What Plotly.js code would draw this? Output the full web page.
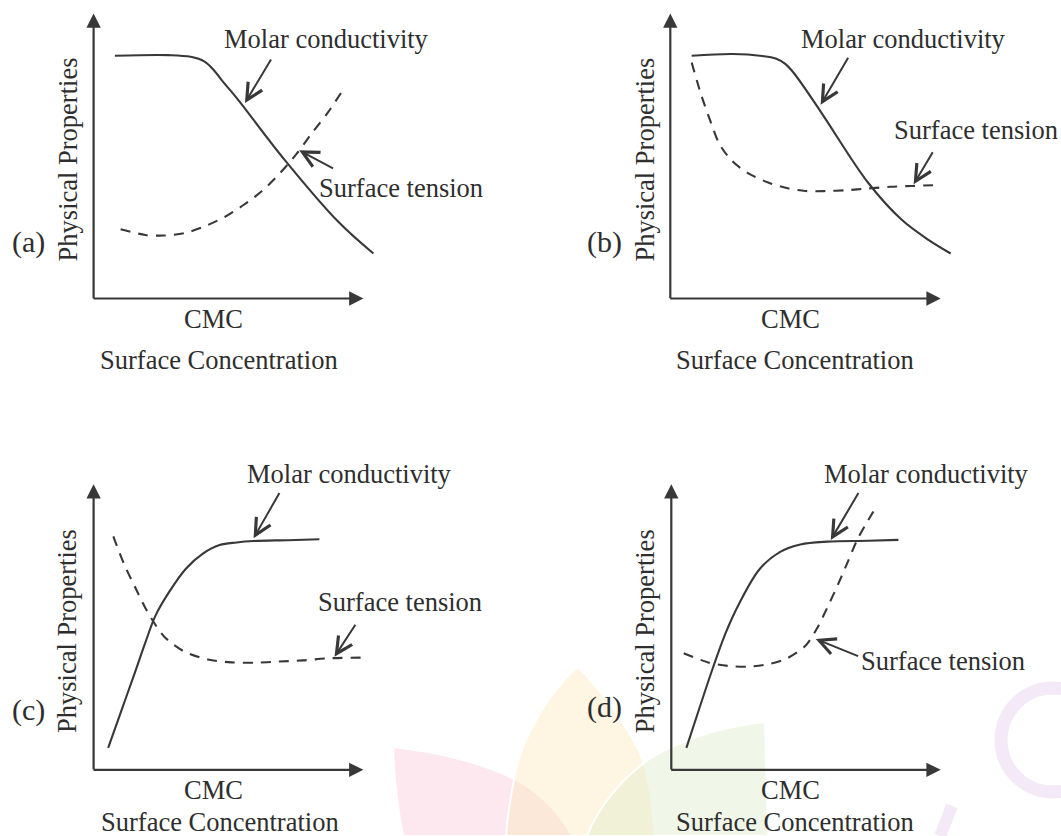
<!DOCTYPE html>
<html>
<head>
<meta charset="utf-8">
<script src="https://cdn.plot.ly/plotly-3.0.1.min.js"></script>
<style>
html,body{margin:0;padding:0;background:#ffffff;}
#chart{width:1061px;height:836px;}
</style>
</head>
<body>
<div id="chart"></div>
<script>
// ---------------- DATA (arbitrary units: 0 = axis origin, 100 = arrow tip) ----------------
// Panel (a)
const molarA_x = [7.9, 27.9, 36.0, 41.0, 44.5, 48.0, 53.0, 70.5, 90.6, 103.7];
const molarA_y = [85.2, 85.4, 84.8, 83.2, 80.2, 76.0, 70.4, 49.0, 27.0, 15.8];
const tensionA_x = [10.0, 19.2, 26.1, 33.6, 41.1, 48.6, 55.7, 62.4, 69.1, 75.3, 80.8, 86.8, 92.1];
const tensionA_y = [24.3, 22.3, 22.1, 22.9, 25.3, 28.6, 32.9, 37.7, 44.0, 50.8, 57.9, 65.2, 72.7];
// Panel (b)
const molarB_x = [7.9, 23.1, 34.0, 39.0, 42.5, 45.6, 55.6, 73.1, 85.6, 95.6, 103.7];
const molarB_y = [85.2, 85.8, 85.1, 84.2, 82.3, 79.2, 65.6, 40.7, 27.6, 20.5, 15.8];
const tensionB_x = [7.9, 11.5, 14.8, 18.1, 22.7, 28.7, 36.2, 43.8, 50.0, 57.5, 65.0, 73.1, 81.3, 89.4, 99.4];
const tensionB_y = [82.8, 71.2, 62.3, 54.3, 48.4, 44.0, 40.7, 38.6, 37.7, 37.7, 38.0, 38.6, 39.2, 39.5, 39.8];
// Panel (c)
const molarC_x = [5.4, 10.4, 15.4, 19.2, 22.9, 27.9, 34.2, 40.5, 46.7, 53.0, 59.3, 71.8, 83.7];
const molarC_y = [7.7, 21.0, 34.3, 44.6, 53.9, 62.1, 70.4, 75.7, 78.7, 79.6, 80.1, 80.4, 80.7];
const tensionC_x = [7.3, 11.4, 15.4, 19.8, 26.1, 33.6, 42.4, 51.1, 59.9, 68.7, 77.4, 86.2, 99.4];
const tensionC_y = [81.7, 71.8, 63.9, 55.6, 46.7, 41.4, 38.6, 37.6, 37.5, 37.9, 38.3, 39.0, 39.3];
// Panel (d)
const molarD_x = [5.6, 10.3, 15.3, 20.3, 25.4, 32.9, 40.4, 47.9, 57.9, 73.0, 84.3];
const molarD_y = [7.7, 21.2, 35.3, 48.2, 58.6, 70.4, 76.3, 78.9, 79.9, 80.2, 80.5];
const tensionD_x = [4.6, 13.7, 20.9, 28.5, 36.0, 42.9, 49.8, 54.2, 57.9, 61.7, 65.5, 69.3, 76.2];
const tensionD_y = [40.8, 37.6, 36.4, 36.1, 37.0, 39.0, 43.4, 49.7, 56.8, 64.5, 72.8, 81.1, 92.3];

// Text labels
const panelLabels = ['(a)', '(b)', '(c)', '(d)'];
const molarLabel = 'Molar conductivity';
const tensionLabel = 'Surface tension';
const yTitle = 'Physical Properties';
const cmcLabel = 'CMC';
const xTitle = 'Surface Concentration';

// ---------------- LAYOUT GEOMETRY ----------------
const W = 1061, H = 836;
const INK = '#383838';
const TXT = '#2e2e2e';
const FONT = 'Liberation Serif, Times New Roman, serif';

const panels = [
  {ox: 93.6, oy: 298.5, tipX: 363.4, topY: 13.5, box: [0, 0, 530, 418],
   mx: molarA_x, my: molarA_y, tx: tensionA_x, ty: tensionA_y,
   ann: {molar: [86.5, 91.1], molarTail: [66.2, 84.6], molarHead: [56.1, 68.6],
         tens: [114.1, 38.9], tensTail: [89.3, 45.4], tensHead: [76.2, 52.0],
         lab: [-24.1, 19.9], yt: [-9.6, 48.7], cmc: [44.3, -7.3], xt: [46.5, -21.6]}},
  {ox: 670.3, oy: 298.5, tipX: 940.7, topY: 13.5, box: [530, 0, 1061, 418],
   mx: molarB_x, my: molarB_y, tx: tensionB_x, ty: tensionB_y,
   ann: {molar: [86.2, 91.1], molarTail: [66.2, 85.2], molarHead: [55.6, 68.0],
         tens: [113.1, 59.1], tensTail: [97.5, 52.0], tensHead: [90.0, 40.1],
         lab: [-24.4, 19.9], yt: [-9.4, 48.7], cmc: [44.4, -7.3], xt: [46.2, -21.6]}},
  {ox: 93.6, oy: 769.8, tipX: 363.4, topY: 484.2, box: [0, 418, 530, 836],
   mx: molarC_x, my: molarC_y, tx: tensionC_x, ty: tensionC_y,
   ann: {molar: [94.7, 103.4], molarTail: [69.3, 97.6], molarHead: [59.3, 81.1],
         tens: [113.5, 58.6], tensTail: [97.5, 51.5], tensHead: [89.3, 39.6],
         lab: [-24.1, 20.9], yt: [-9.6, 48.5], cmc: [44.3, -7.1], xt: [46.7, -18.4]}},
  {ox: 671.3, oy: 769.8, tipX: 940.7, topY: 484.2, box: [530, 418, 1061, 836],
   mx: molarD_x, my: molarD_y, tx: tensionD_x, ty: tensionD_y,
   ann: {molar: [94.7, 103.4], molarTail: [69.9, 97.6], molarHead: [59.2, 80.5],
         tens: [101.0, 38.2], tensTail: [69.9, 39.6], tensHead: [53.6, 45.8],
         lab: [-24.8, 22.1], yt: [-9.8, 48.5], cmc: [44.2, -7.1], xt: [46.0, -18.4]}}
];

const traces = [];
const annotations = [];
const layout = {
  width: W, height: H,
  margin: {l: 0, r: 0, t: 0, b: 0, pad: 0},
  paper_bgcolor: '#ffffff', plot_bgcolor: 'rgba(0,0,0,0)',
  showlegend: false,
  annotations: annotations,
  shapes: []
};

panels.forEach((p, i) => {
  const n = i === 0 ? '' : String(i + 1);
  const xr = 'x' + n, yr = 'y' + n;
  const sx = (p.tipX - p.ox) / 100, sy = (p.oy - p.topY) / 100;
  const axCommon = {visible: false, showgrid: false, zeroline: false, fixedrange: true};
  layout['xaxis' + n] = Object.assign({}, axCommon, {
    domain: [p.box[0] / W, p.box[2] / W],
    range: [(p.box[0] - p.ox) / sx, (p.box[2] - p.ox) / sx],
    anchor: yr
  });
  layout['yaxis' + n] = Object.assign({}, axCommon, {
    domain: [1 - p.box[3] / H, 1 - p.box[1] / H],
    range: [(p.oy - p.box[3]) / sy, (p.oy - p.box[1]) / sy],
    anchor: xr
  });

  traces.push({
    x: p.mx, y: p.my, xaxis: xr, yaxis: yr, type: 'scatter', mode: 'lines',
    line: {color: INK, width: 2.1, shape: 'spline', smoothing: 1},
    hoverinfo: 'skip', name: molarLabel
  });
  traces.push({
    x: p.tx, y: p.ty, xaxis: xr, yaxis: yr, type: 'scatter', mode: 'lines',
    line: {color: INK, width: 2.1, dash: '10px,8px', shape: 'spline', smoothing: 0.8},
    hoverinfo: 'skip', name: tensionLabel
  });

  const arrowBase = {xref: xr, yref: yr, axref: xr, ayref: yr, showarrow: true,
                     text: ' ', font: {size: 1}, standoff: 0, arrowcolor: INK};
  // axes
  annotations.push(Object.assign({}, arrowBase, {x: 100, y: 0, ax: -0.6, ay: 0,
    arrowhead: 2, arrowsize: 1.3, arrowwidth: 2.2}));
  annotations.push(Object.assign({}, arrowBase, {x: 0, y: 100, ax: 0, ay: -0.6,
    arrowhead: 2, arrowsize: 1.3, arrowwidth: 2.2}));
  // pointer arrows
  annotations.push(Object.assign({}, arrowBase, {
    x: p.ann.molarHead[0], y: p.ann.molarHead[1], ax: p.ann.molarTail[0], ay: p.ann.molarTail[1],
    arrowhead: 5, arrowsize: 1.6, arrowwidth: 2}));
  annotations.push(Object.assign({}, arrowBase, {
    x: p.ann.tensHead[0], y: p.ann.tensHead[1], ax: p.ann.tensTail[0], ay: p.ann.tensTail[1],
    arrowhead: 5, arrowsize: 1.6, arrowwidth: 2}));

  const txt = (pos, text, size, angle) => ({
    xref: xr, yref: yr, x: pos[0], y: pos[1], text: text, showarrow: false,
    xanchor: 'center', yanchor: 'middle', textangle: angle || 0,
    font: {family: FONT, size: size, color: TXT}
  });
  annotations.push(txt(p.ann.molar, molarLabel, 26.5));
  annotations.push(txt(p.ann.tens, tensionLabel, 26.5));
  annotations.push(txt(p.ann.lab, panelLabels[i], 30));
  annotations.push(txt(p.ann.yt, yTitle, 26.5, -90));
  annotations.push(txt(p.ann.cmc, cmcLabel, 26.5));
  annotations.push(txt(p.ann.xt, xTitle, 26.5));
});

// ---------------- faint background watermark (decoration) ----------------
function toPaper(path) {
  return path.replace(/(-?\d+(?:\.\d+)?),(-?\d+(?:\.\d+)?)/g,
    (m, a, b) => (parseFloat(a) / W).toFixed(5) + ',' + (1 - parseFloat(b) / H).toFixed(5));
}
const petals = [
  {d: 'M393,747 C440,752 490,765 520,782 C545,797 562,818 572,836 L403,836 C398,810 394,780 393,747 Z', c: 'rgba(248,200,214,0.42)'},
  {d: 'M578,667 C550,690 520,740 514,780 C510,800 507,820 506,836 L655,836 C652,800 648,775 643,760 C630,730 610,700 578,667 Z', c: 'rgba(252,232,190,0.45)'},
  {d: 'M765,722 C720,727 680,740 648,760 C620,780 598,808 587,836 L768,836 Z', c: 'rgba(222,236,200,0.42)'}
];
petals.forEach(pt => layout.shapes.push({
  type: 'path', xref: 'paper', yref: 'paper', path: toPaper(pt.d),
  fillcolor: pt.c, line: {color: '#ffffff', width: 2}, layer: 'below'
}));
layout.shapes.push({type: 'circle', xref: 'paper', yref: 'paper',
  x0: 1001 / W, x1: 1105 / W, y0: 1 - 792 / H, y1: 1 - 688 / H,
  line: {color: '#f4e9f7', width: 13}, fillcolor: 'rgba(0,0,0,0)', layer: 'below'});
layout.shapes.push({type: 'line', xref: 'paper', yref: 'paper',
  x0: 952 / W, y0: 1 - 806 / H, x1: 940 / W, y1: 1 - 836 / H,
  line: {color: '#f4e9f7', width: 12}, layer: 'below'});

Plotly.newPlot('chart', traces, layout, {staticPlot: true, displayModeBar: false});
</script>
</body>
</html>
